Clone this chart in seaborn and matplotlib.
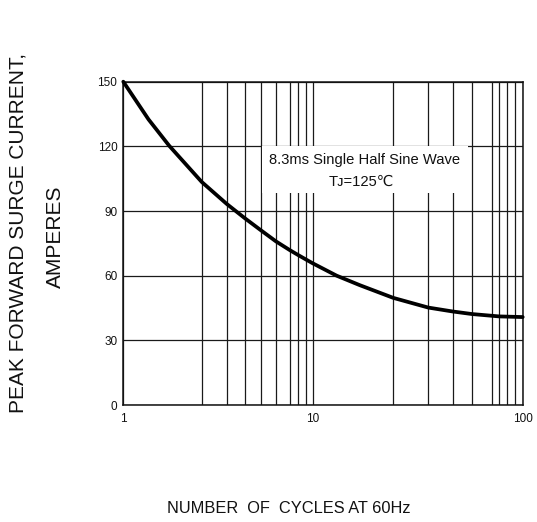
import numpy as np
import pandas as pd
import seaborn as sns
import matplotlib
matplotlib.use('Agg')
import matplotlib.pyplot as plt
from matplotlib import font_manager
from matplotlib.patches import Rectangle
from matplotlib.ticker import FixedLocator

# ── Data ────────────────────────────────────────────────────────────
CYCLES = [1, 1.25, 1.5, 2, 3, 4, 5, 6, 7, 8, 9, 10, 12.3, 15,
          20, 30, 40, 50, 60, 70, 80, 100]
CURRENT = [150, 132.5, 120.3, 103.5, 93.3, 86.6, 81.2, 75.9, 71.8, 69.7,
           67.5, 65.8, 60.0, 55.6, 49.7, 45.2, 43.4, 42.2, 41.4, 41.1,
           41.0, 40.8]

Y_TICKS = [0, 30, 60, 90, 120, 150]
X_MAJOR = [1, 10, 100]
X_MAJOR_LABELS = ['1', '10', '100']
X_MINOR = [2, 3, 4, 5, 6, 7, 8, 9, 20, 30, 40, 50, 60, 70, 80, 90]

NOTE_LINE1 = '8.3ms Single Half Sine Wave'
NOTE_LINE2 = 'T\u1d0a=125\u2103'
YLABEL_1 = 'PEAK FORWARD SURGE CURRENT,'
YLABEL_2 = 'AMPERES'
XLABEL = 'NUMBER  OF  CYCLES AT 60Hz'

# ── The printed grid is hand drawn: pixel spots of 1..10..100 lines ──
GRID_VALUES = [1, 2, 3, 4, 5, 6, 7, 8, 9, 10,
               20, 30, 40, 50, 60, 70, 80, 90, 100]
GRID_PX = [123.3, 201.7, 226.7, 245.0, 260.5, 276.0, 290.0, 297.7, 306.0,
           312.5, 393.3, 428.3, 452.5, 472.0, 491.7, 499.3, 507.3, 515.0,
           522.7]
LOG_GRID = np.log10(GRID_VALUES)
GRID_FRAC = (np.array(GRID_PX) - GRID_PX[0]) / (GRID_PX[-1] - GRID_PX[0])


def fwd(x):
    x = np.clip(np.asarray(x, dtype=float), 1e-6, None)
    return np.interp(np.log10(x), LOG_GRID, GRID_FRAC)


def inv(f):
    return 10 ** np.interp(np.asarray(f, dtype=float), GRID_FRAC, LOG_GRID)


def has_font(name):
    try:
        font_manager.findfont(font_manager.FontProperties(family=name),
                              fallback_to_default=False)
        return True
    except Exception:
        return False


sns.set_style('white')
plt.rcParams['font.family'] = ['Liberation Sans', 'DejaVu Sans']

df = pd.DataFrame({'cycles': CYCLES, 'current': CURRENT})

W, H = 537, 522
fig = plt.figure(figsize=(W / 100, H / 100), dpi=100)
ax = fig.add_axes([123.3 / W, 1 - 405 / H, (522.7 - 123.3) / W, (405 - 81.7) / H])

ax.set_xscale('function', functions=(fwd, inv))

sns.lineplot(data=df, x='cycles', y='current', ax=ax, color='black',
             lw=2.7, zorder=4, clip_on=False)

ax.set_xlim(1, 100)
ax.set_ylim(0, 150)
ax.set_xticks(X_MAJOR, X_MAJOR_LABELS)
ax.xaxis.set_minor_locator(FixedLocator(X_MINOR))
ax.set_yticks(Y_TICKS)

ax.set_axisbelow(True)
ax.grid(True, which='both', axis='x', color='#1a1a1a', lw=0.9)
ax.grid(True, which='major', axis='y', color='#1a1a1a', lw=0.9)
for s in ax.spines.values():
    s.set_color('#111111')
    s.set_linewidth(1.1)

ax.tick_params(axis='both', which='both', length=0, labelsize=8.5,
               colors='#111111')
ax.tick_params(axis='y', pad=4.3)
ax.tick_params(axis='x', pad=5.5)
ax.set_xlabel('')
ax.set_ylabel('')

# White panel behind the test condition note
ax.add_patch(Rectangle((0.347, 0.656), 0.516, 0.145, transform=ax.transAxes,
                       facecolor='white', edgecolor='none', zorder=2))
ax.text(0.605, 0.758, NOTE_LINE1, transform=ax.transAxes, ha='center',
        va='center', fontsize=10.6, color='#111111', zorder=3)
ax.text(0.596, 0.691, NOTE_LINE2, transform=ax.transAxes, ha='center',
        va='center', fontsize=10.6, color='#111111', zorder=3,
        family=['Liberation Sans', 'DejaVu Sans'])

# Axis titles
fig.text(18 / W, 1 - 233 / H, YLABEL_1, rotation=90, ha='center',
         va='center', fontsize=15, color='#111111')
fig.text(55 / W, 1 - 236.5 / H, YLABEL_2, rotation=90, ha='center',
         va='center', fontsize=15, color='#111111')

if has_font('Liberation Sans Narrow'):
    fig.text(288.5 / W, 1 - 508.5 / H, XLABEL, ha='center', va='center',
             fontsize=14, color='#111111', family='Liberation Sans Narrow')
else:
    fig.text(288.5 / W, 1 - 508.5 / H, XLABEL, ha='center', va='center',
             fontsize=11.8, color='#111111')

fig.savefig('out.png', dpi=100)
plt.close(fig)
